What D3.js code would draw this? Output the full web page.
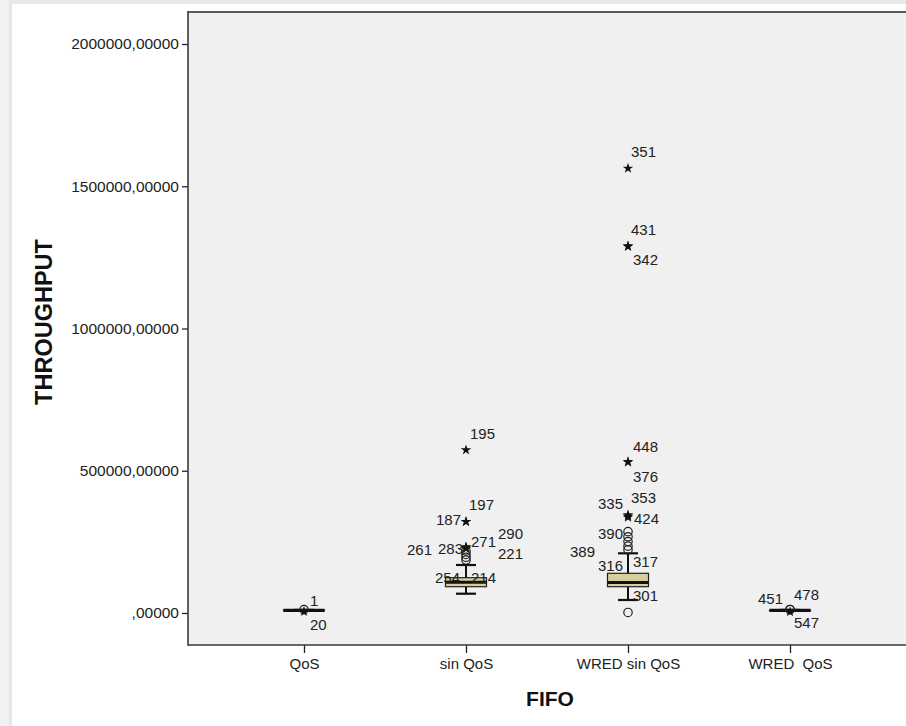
<!DOCTYPE html>
<html>
<head>
<meta charset="utf-8">
<script src="https://cdn.jsdelivr.net/npm/d3@7"></script>
<style>
  html, body { margin: 0; padding: 0; background: #ffffff; }
  svg { display: block; font-family: Arial, "Liberation Sans", sans-serif; }
</style>
</head>
<body>
<svg id="chart" width="906" height="726"></svg>
<script>
// Throughput per FIFO configuration: box statistics and labelled outlying cases
const categories = ["QoS", "sin QoS", "WRED sin QoS", "WRED  QoS"];
const q1Values = [9000, 92400, 92400, 9000];
const medianValues = [9500, 108000, 107200, 9500];
const q3Values = [10000, 124100, 139500, 10000];
const whiskerLowValues = [8200, 67800, 45700, 8200];
const whiskerHighValues = [10800, 168700, 209800, 10800];

// Outlying cases: group, case number, value, kind ("o" = outlier, "*" = extreme)
const outlierGroups = [
  "QoS", "QoS",
  "sin QoS", "sin QoS", "sin QoS", "sin QoS", "sin QoS", "sin QoS", "sin QoS", "sin QoS", "sin QoS", "sin QoS",
  "WRED sin QoS", "WRED sin QoS", "WRED sin QoS", "WRED sin QoS", "WRED sin QoS", "WRED sin QoS", "WRED sin QoS",
  "WRED sin QoS", "WRED sin QoS", "WRED sin QoS", "WRED sin QoS", "WRED sin QoS", "WRED sin QoS", "WRED sin QoS",
  "WRED  QoS", "WRED  QoS", "WRED  QoS"
];
const outlierCases = [
  "1", "20",
  "195", "197", "187", "283", "261", "271", "290", "221", "214", "254",
  "351", "431", "342", "448", "376", "335", "353", "424", "390", "389", "317", "316", "", "301",
  "451", "478", "547"
];
const outlierValues = [
  12000, 5000,
  573000, 321000, 321000, 230000, 226000, 232000, 218000, 206000, 196000, 186000,
  1563000, 1290000, 1288000, 532000, 530000, 345000, 340000, 336000, 286000, 268000, 251000, 235000, 222000, 2000,
  12000, 12500, 4000
];
const outlierKinds = [
  "o", "*",
  "*", "*", "*", "*", "*", "*", "o", "o", "o", "o",
  "*", "*", "*", "*", "*", "*", "*", "*", "o", "o", "o", "o", "o", "o",
  "o", "o", "*"
];

const yTicks = [0, 500000, 1000000, 1500000, 2000000];
const yTickLabels = [",00000", "500000,00000", "1000000,00000", "1500000,00000", "2000000,00000"];

const yTitle = "THROUGHPUT";
const xTitle = "FIFO";

// Label placement around each case marker: [text-anchor, dx, dy]
const labelPlacement = {
  "1": ["start", 6, -9], "20": ["start", 6, 13],
  "195": ["start", 4, -16], "197": ["start", 3, -17], "187": ["end", -5, -2],
  "283": ["end", -3, 1], "261": ["end", -34, 1], "271": ["start", 5, -5],
  "290": ["start", 32, -17], "221": ["start", 32, -1], "214": ["start", 5, 20], "254": ["end", -6, 17],
  "351": ["start", 3, -17], "431": ["start", 3, -16], "342": ["start", 5, 13],
  "448": ["start", 5, -15], "376": ["start", 5, 14], "335": ["end", -5, -11],
  "353": ["start", 3, -19], "424": ["start", 6, 1], "390": ["end", -5, 2],
  "389": ["end", -33, 15], "317": ["start", 5, 20], "316": ["end", -5, 19],
  "301": ["start", 5, -17],
  "451": ["end", -7, -11], "478": ["start", 4, -15], "547": ["start", 4, 11]
};

const svg = d3.select("#chart");
const W = 906, H = 726;
const plot = { left: 188, right: 906, top: 12, bottom: 645 };

// page chrome: light strips on the top and left edges
svg.append("rect").attr("x", 0).attr("y", 0).attr("width", W).attr("height", 4).attr("fill", "#e9e9e9");
svg.append("rect").attr("x", 0).attr("y", 0).attr("width", 9).attr("height", H).attr("fill", "#f2f2f2");
svg.append("rect").attr("x", 9).attr("y", 0).attr("width", 3).attr("height", H).attr("fill", "#e7e7e7");

const x = d3.scalePoint()
  .domain(categories)
  .range([plot.left, plot.right])
  .padding(0.716);

const y = d3.scaleLinear()
  .domain([-112500, 2112500])
  .range([plot.bottom, plot.top]);

// plot background
svg.append("rect")
  .attr("x", plot.left).attr("y", plot.top)
  .attr("width", plot.right - plot.left + 2).attr("height", plot.bottom - plot.top)
  .attr("fill", "#f0f0f0");

// axes
const yAxis = d3.axisLeft(y)
  .tickValues(yTicks)
  .tickSize(6)
  .tickPadding(3)
  .tickFormat((d, i) => yTickLabels[i]);

const gy = svg.append("g").attr("transform", `translate(${plot.left},0)`).call(yAxis);
gy.select(".domain").remove();
gy.selectAll(".tick line").attr("stroke", "#222").attr("stroke-width", 1.3);
gy.selectAll(".tick text").attr("fill", "#222").style("font-size", "15.5px")
  .style("font-family", "Arial, 'Liberation Sans', sans-serif");

const xAxis = d3.axisBottom(x).tickSize(8).tickPadding(5);
const gx = svg.append("g").attr("transform", `translate(0,${plot.bottom})`).call(xAxis);
gx.select(".domain").remove();
gx.selectAll(".tick line").attr("stroke", "#222").attr("stroke-width", 1.3);
gx.selectAll(".tick text").attr("fill", "#222").style("font-size", "15px")
  .style("font-family", "Arial, 'Liberation Sans', sans-serif")
  .attr("xml:space", "preserve").style("white-space", "pre");

// frame lines
svg.append("line").attr("x1", plot.left).attr("x2", W).attr("y1", plot.top).attr("y2", plot.top)
  .attr("stroke", "#5a5a5a").attr("stroke-width", 2.2);
svg.append("line").attr("x1", plot.left).attr("x2", W).attr("y1", plot.bottom).attr("y2", plot.bottom)
  .attr("stroke", "#3a3a3a").attr("stroke-width", 1.6);
svg.append("line").attr("x1", plot.left).attr("x2", plot.left).attr("y1", plot.top - 1).attr("y2", plot.bottom + 0.8)
  .attr("stroke", "#3a3a3a").attr("stroke-width", 1.6);

// boxes
const boxW = 41, capW = 20;
const boxes = categories.map((c, i) => ({
  cat: c, q1: q1Values[i], med: medianValues[i], q3: q3Values[i],
  lo: whiskerLowValues[i], hi: whiskerHighValues[i]
}));

const gb = svg.append("g");
boxes.forEach(b => {
  const cx = x(b.cat);
  const g = gb.append("g");
  // whisker stem
  g.append("line").attr("x1", cx).attr("x2", cx).attr("y1", y(b.hi)).attr("y2", y(b.lo))
    .attr("stroke", "#111").attr("stroke-width", 2);
  // caps
  [b.hi, b.lo].forEach(v => {
    g.append("line").attr("x1", cx - capW / 2).attr("x2", cx + capW / 2).attr("y1", y(v)).attr("y2", y(v))
      .attr("stroke", "#111").attr("stroke-width", 2.2);
  });
  // box
  g.append("rect")
    .attr("x", cx - boxW / 2).attr("y", y(b.q3))
    .attr("width", boxW).attr("height", Math.max(0.5, y(b.q1) - y(b.q3)))
    .attr("fill", "#d6cf9c").attr("stroke", "#222").attr("stroke-width", 1.2);
  // median
  g.append("line").attr("x1", cx - boxW / 2).attr("x2", cx + boxW / 2).attr("y1", y(b.med)).attr("y2", y(b.med))
    .attr("stroke", "#111").attr("stroke-width", 3.2);
});

// outlying cases
const cases = outlierCases.map((c, i) => ({
  id: c, cat: outlierGroups[i], value: outlierValues[i], kind: outlierKinds[i]
}));

const star = d3.symbol().type(d3.symbolStar).size(34);
const gp = svg.append("g");
cases.forEach(d => {
  const cx = x(d.cat), cy = y(d.value);
  if (d.kind === "*") {
    gp.append("path").attr("d", star).attr("transform", `translate(${cx},${cy})`).attr("fill", "#111");
  } else {
    gp.append("circle").attr("cx", cx).attr("cy", cy).attr("r", 4.2)
      .attr("fill", "none").attr("stroke", "#222").attr("stroke-width", 1.2);
  }
});

const gl = svg.append("g");
cases.filter(d => d.id !== "").forEach(d => {
  const p = labelPlacement[d.id] || ["start", 5, -12];
  gl.append("text")
    .attr("x", x(d.cat) + p[1]).attr("y", y(d.value) + p[2])
    .attr("text-anchor", p[0]).attr("dominant-baseline", "central")
    .attr("fill", "#222").style("font-size", "15px")
    .text(d.id);
});

// axis titles
svg.append("text")
  .attr("transform", `translate(52,322) rotate(-90)`)
  .attr("text-anchor", "middle")
  .style("font-size", "23.5px").style("font-weight", "bold").attr("fill", "#111")
  .text(yTitle);

svg.append("text")
  .attr("x", (plot.left + plot.right) / 2 + 3).attr("y", 706)
  .attr("text-anchor", "middle")
  .style("font-size", "21px").style("font-weight", "bold").attr("fill", "#111")
  .text(xTitle);
</script>
</body>
</html>
